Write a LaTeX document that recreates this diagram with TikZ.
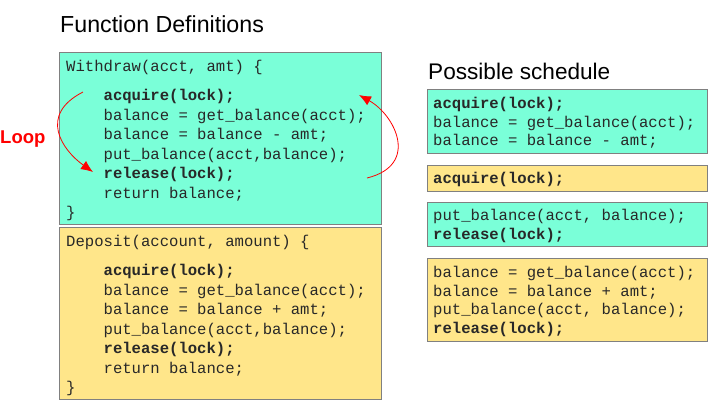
\documentclass[tikz,border=0pt]{standalone}
\usepackage{fontspec}
\setmainfont{Liberation Sans}
\setmonofont{Liberation Mono}
\usetikzlibrary{arrows.meta}
\definecolor{cy}{RGB}{122, 255, 216}
\definecolor{yl}{RGB}{255, 230, 138}
\definecolor{bd}{RGB}{128, 128, 128}
\definecolor{tx}{RGB}{40, 40, 40}
\newcommand{\ind}{\phantom{xxxx}}

\begin{document}
\begin{tikzpicture}[x=1pt, y=-1pt,
box/.style={rectangle, anchor=north west, line width=1pt, draw=bd, inner sep=0pt},
code/.style={anchor=north west, inner sep=0pt, align=left, text=tx, font=\fontsize{15.6}{19.5}\selectfont\ttfamily},
sched/.style={code, font=\fontsize{15.6}{18.5}\selectfont\ttfamily},
head/.style={anchor=base west, inner sep=0pt, font=\fontsize{22.6}{27}\selectfont},
loop/.style={red, line width=0.8pt, -{Latex[length=12pt, width=10pt]}}]
\useasboundingbox (0, 0) rectangle (718, 410);
\node (t1) [head, font=\fontsize{23.2}{27}\selectfont] at (60, 32) {Function Definitions};
\node (t2) [head] at (428, 79) {Possible schedule};
\node (t3) [anchor=base west, inner sep=0pt, text=red, font=\fontsize{18.5}{22}\selectfont\bfseries] at (0, 143) {Loop};
% function boxes
\node (1) [box, fill=cy, minimum width=322pt, minimum height=172pt] at (59, 52) {};
\node (2) [box, fill=yl, minimum width=322pt, minimum height=172pt] at (59, 227) {};
\node (1c) [code] at (66, 59.8) {Withdraw(acct, amt) \{\\[10pt]
\ind\textbf{acquire(lock);}\\
\ind balance = get\_balance(acct);\\
\ind balance = balance - amt;\\
\ind put\_balance(acct,balance);\\
\ind\textbf{release(lock);}\\
\ind return balance;\\
\}};
\node (2c) [code] at (66, 234.8) {Deposit(account, amount) \{\\[10pt]
\ind\textbf{acquire(lock);}\\
\ind balance = get\_balance(acct);\\
\ind balance = balance + amt;\\
\ind put\_balance(acct,balance);\\
\ind\textbf{release(lock);}\\
\ind return balance;\\
\}};
% schedule boxes
\node (3) [box, fill=cy, minimum width=280pt, minimum height=64pt] at (427, 89) {};
\node (4) [box, fill=yl, minimum width=280pt, minimum height=26pt] at (427, 165) {};
\node (5) [box, fill=cy, minimum width=280pt, minimum height=44pt] at (427, 202) {};
\node (6) [box, fill=yl, minimum width=280pt, minimum height=83pt] at (427, 258) {};
\node (3c) [sched] at (433, 97.3) {\textbf{acquire(lock);}\\
balance = get\_balance(acct);\\
balance = balance - amt;};
\node (4c) [sched] at (433, 171.8) {\textbf{acquire(lock);}};
\node (5c) [sched] at (433, 209) {put\_balance(acct, balance);\\
\textbf{release(lock);}};
\node (6c) [sched] at (433, 266.3) {balance = get\_balance(acct);\\
balance = balance + amt;\\
put\_balance(acct, balance);\\
\textbf{release(lock);}};
% loop arrows
\coordinate (a1) at (83, 92);
\coordinate (a2) at (93, 172);
\coordinate (b1) at (367, 178);
\coordinate (b2) at (359, 95);
\draw [loop] (a1) .. controls (38, 115) and (62, 150) .. (a2);
\draw [loop] (b1) .. controls (420, 165) and (395, 115) .. (b2);
\end{tikzpicture}
\end{document}
